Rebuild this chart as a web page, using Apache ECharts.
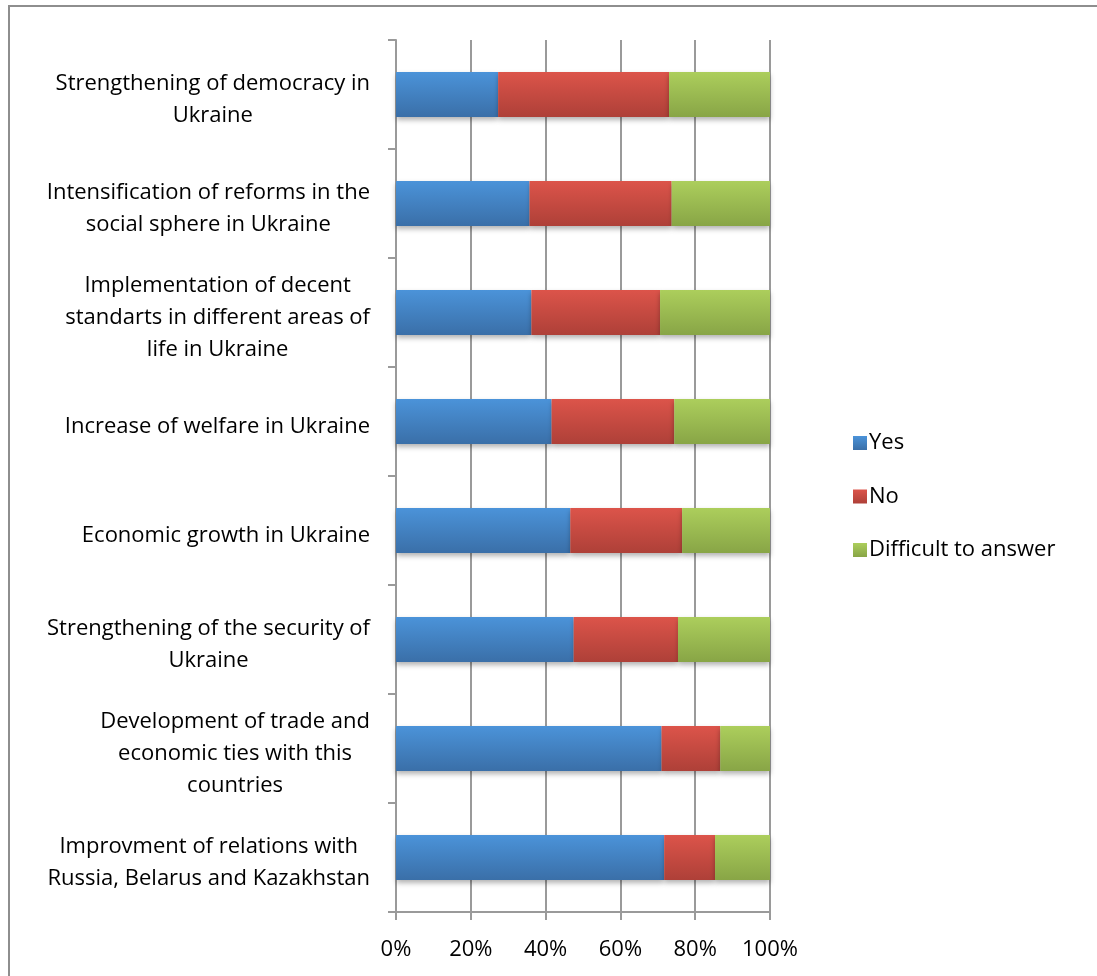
<!DOCTYPE html>
<html>
<head>
<meta charset="utf-8">
<script src="https://cdn.jsdelivr.net/npm/echarts@6/dist/echarts.min.js"></script>
<style>
  html, body { margin: 0; padding: 0; background: #fff; }
  #frame { position: absolute; left: 8px; top: 5px; width: 1200px; height: 1100px; border: 2px solid #8e8e8e; box-sizing: border-box; }
  #chart { position: absolute; left: 0; top: 0; width: 1097px; height: 976px; }
</style>
</head>
<body>
<div id="frame"></div>
<div id="chart"></div>
<script>
// categories, top to bottom
const categories = [
    'Strengthening of democracy in\nUkraine',
    'Intensification of reforms in the\nsocial sphere in Ukraine',
    'Implementation of decent\nstandarts in different areas of\nlife in Ukraine',
    'Increase of welfare in Ukraine',
    'Economic growth in Ukraine',
    'Strengthening of the security of\nUkraine',
    'Development of trade and\neconomic ties with this\ncountries',
    'Improvment of relations with\nRussia, Belarus and Kazakhstan'
];
const yesData = [27.3, 35.7, 36.2, 41.6, 46.6, 47.5, 71.0, 71.7];
const noData = [45.7, 38.0, 34.4, 32.8, 29.9, 27.9, 15.7, 13.6];
const difficultData = [27.0, 26.3, 29.4, 25.6, 23.5, 24.6, 13.3, 14.7];
const xTicks = [0, 20, 40, 60, 80, 100];

const FONT = 'Open Sans';
const FS = 22;

const grad = (top, bottom) => new echarts.graphic.LinearGradient(0, 0, 0, 1, [
    { offset: 0, color: top },
    { offset: 1, color: bottom }
]);

const mkSeries = (name, data, top, bottom) => ({
    name,
    type: 'bar',
    stack: 'total',
    data,
    barWidth: 45,
    itemStyle: {
        color: grad(top, bottom),
        shadowColor: 'rgba(0,0,0,0.3)',
        shadowBlur: 5,
        shadowOffsetY: 3
    },
    emphasis: { disabled: true }
});

const chart = echarts.init(document.getElementById('chart'));
chart.setOption({
    animation: false,
    textStyle: { fontFamily: FONT },
    grid: { left: 396, right: 327, top: 40, bottom: 64 },
    legend: {
        orient: 'vertical',
        left: 848,
        top: 427,
        itemWidth: 14,
        itemHeight: 14,
        itemGap: 31.5,
        icon: 'rect',
        textStyle: { fontSize: FS, lineHeight: 22, color: '#000', fontFamily: FONT, padding: [0, 0, 0, -3] },
        data: ['Yes', 'No', 'Difficult to answer']
    },
    xAxis: {
        type: 'value',
        min: 0,
        max: 100,
        interval: 20,
        axisLine: { show: true, lineStyle: { color: '#9a9a9a', width: 2 } },
        axisTick: { show: true, length: 8, lineStyle: { color: '#9a9a9a', width: 2 } },
        splitLine: { show: true, lineStyle: { color: '#9a9a9a', width: 2 } },
        axisLabel: {
            fontSize: FS,
            color: '#000',
            margin: 27,
            formatter: v => xTicks.includes(v) ? v + '%' : ''
        }
    },
    yAxis: {
        type: 'category',
        inverse: true,
        data: categories,
        axisLine: { show: true, lineStyle: { color: '#9a9a9a', width: 2 } },
        axisTick: { show: true, length: 8, lineStyle: { color: '#9a9a9a', width: 2 } },
        axisLabel: {
            margin: 26,
            color: '#000',
            fontSize: FS,
            lineHeight: 32,
            padding: [10, 0, 0, 0],
            formatter: v => v.split('\n').map(s => '{c|' + s + '}').join('\n'),
            rich: { c: { align: 'center', fontSize: FS, lineHeight: 32, color: '#000', fontFamily: FONT } }
        }
    },
    series: [
        mkSeries('Yes', yesData, '#4b93d9', '#3a6fa8'),
        mkSeries('No', noData, '#dc544a', '#ae4038'),
        mkSeries('Difficult to answer', difficultData, '#acce5c', '#88a546')
    ]
});
</script>
</body>
</html>
